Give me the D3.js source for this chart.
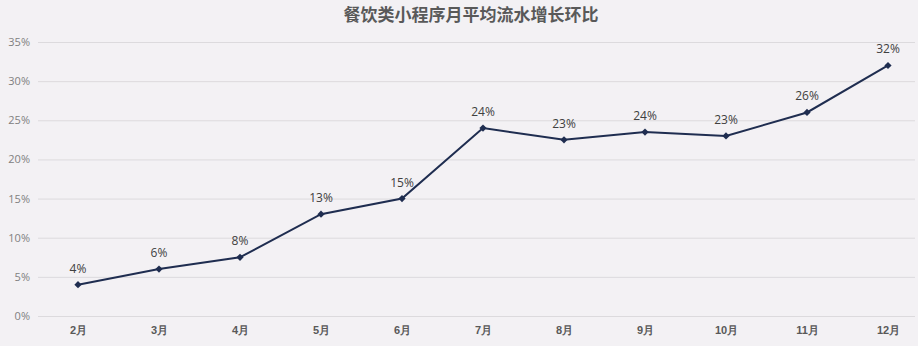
<!DOCTYPE html>
<html>
<head>
<meta charset="utf-8">
<title>餐饮类小程序月平均流水增长环比</title>
<script src="https://cdn.jsdelivr.net/npm/d3@7/dist/d3.min.js"></script>
<style>
  html, body { margin: 0; padding: 0; background: #f3f1f4; }
  svg { display: block; font-family: "Noto Sans CJK SC", "Noto Sans", sans-serif; }
</style>
</head>
<body>
<div id="chart"></div>
<script>
// data
var months = ["2月", "3月", "4月", "5月", "6月", "7月", "8月", "9月", "10月", "11月", "12月"];
var growth = [4, 6, 7.5, 13, 15, 24, 22.5, 23.5, 23, 26, 32];
var pointLabels = ["4%", "6%", "8%", "13%", "15%", "24%", "23%", "24%", "23%", "26%", "32%"];
var yTicks = [0, 5, 10, 15, 20, 25, 30, 35];

var w = 918,
    h = 346;

var svg = d3.select("#chart")
  .append("svg")
  .attr("width", w)
  .attr("height", h);

svg.append("rect").attr("width", w).attr("height", h).attr("fill", "#f3f1f4");

// x scale: points centred in bands
var x = d3.scalePoint()
  .domain(months)
  .range([78, 888]);

var y = d3.scaleLinear()
  .domain([0, 35])
  .range([316, 42]);

// title
svg.append("text")
  .attr("x", 471)
  .attr("y", 21)
  .attr("text-anchor", "middle")
  .attr("font-size", "17px")
  .attr("font-weight", "bold")
  .attr("fill", "#595959")
  .text("餐饮类小程序月平均流水增长环比");

// gridlines + y labels
var yAxis = d3.axisLeft(y)
  .tickValues(yTicks)
  .tickSize(-(915 - 38))
  .tickPadding(8)
  .tickFormat(function(d) { return d + "%"; });

var gy = svg.append("g")
  .attr("transform", "translate(38,0)")
  .call(yAxis);
gy.select(".domain").remove();
gy.selectAll(".tick line").attr("stroke", "#dcdadd").attr("stroke-width", 1);
gy.selectAll(".tick text")
  .attr("fill", "#808080")
  .attr("font-size", "11px")
  .attr("font-family", "'Open Sans', 'Noto Sans', sans-serif");

// x labels
var xAxis = d3.axisBottom(x).tickSize(0).tickPadding(10);
var gx = svg.append("g")
  .attr("transform", "translate(0,316)")
  .call(xAxis);
gx.select(".domain").remove();
gx.selectAll(".tick text")
  .attr("fill", "#595959")
  .attr("font-size", "11px")
  .attr("font-weight", "bold");

// line
var line = d3.line()
  .x(function(d, i) { return x(months[i]); })
  .y(function(d) { return y(d); });

svg.append("path")
  .datum(growth)
  .attr("fill", "none")
  .attr("stroke", "#1f2d50")
  .attr("stroke-width", 2)
  .attr("d", line);

// markers (square turned 45deg)
svg.selectAll(".marker")
  .data(growth)
  .enter()
  .append("path")
  .attr("class", "marker")
  .attr("d", d3.symbol().type(d3.symbolSquare).size(26))
  .attr("transform", function(d, i) { return "translate(" + x(months[i]) + "," + y(d) + ") rotate(45)"; })
  .attr("fill", "#1f2d50");

// value labels
svg.selectAll(".label")
  .data(growth)
  .enter()
  .append("text")
  .attr("class", "label")
  .attr("x", function(d, i) { return x(months[i]); })
  .attr("y", function(d) { return y(d) - 12; })
  .attr("text-anchor", "middle")
  .attr("font-size", "12px")
  .attr("fill", "#404040")
  .attr("font-family", "'Open Sans', 'Noto Sans', sans-serif")
  .text(function(d, i) { return pointLabels[i]; });
</script>
</body>
</html>
